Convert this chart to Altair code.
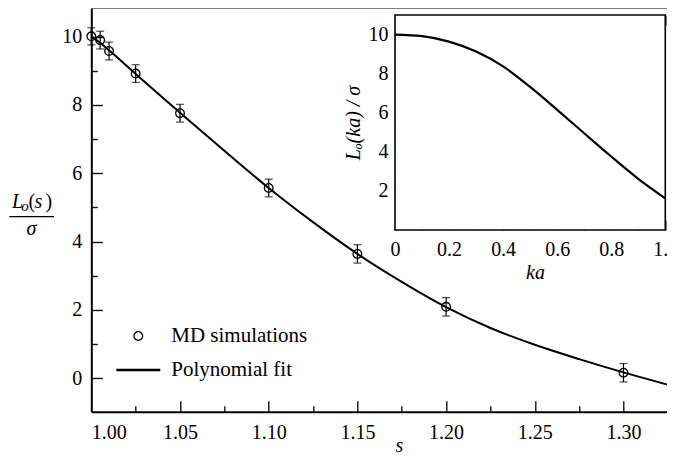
import altair as alt
import pandas as pd

# ---------------- data ----------------
s_md = [1.000, 1.005, 1.010, 1.025, 1.050, 1.100, 1.150, 1.200, 1.300]
L_md = [10.01, 9.90, 9.58, 8.92, 7.76, 5.57, 3.64, 2.09, 0.16]
L_err = [0.25, 0.26, 0.26, 0.26, 0.26, 0.26, 0.27, 0.27, 0.27]

s_fit = [1.000, 1.005, 1.010, 1.025, 1.050, 1.075, 1.100, 1.125, 1.150,
         1.175, 1.200, 1.225, 1.250, 1.275, 1.300, 1.330]
L_fit = [10.00, 9.82, 9.60, 8.91, 7.77, 6.66, 5.57, 4.57, 3.64,
         2.82, 2.08, 1.47, 0.98, 0.56, 0.17, -0.26]

ka_fit = [0.0, 0.1, 0.2, 0.3, 0.4, 0.5, 0.6, 0.7, 0.8, 0.9, 1.0]
Lk_fit = [10.00, 9.92, 9.64, 9.13, 8.37, 7.32, 6.15, 4.95, 3.76, 2.62, 1.62]

series_names = ["MD simulations", "Polynomial fit"]

# tick values
sx_labels = [1.00, 1.05, 1.10, 1.15, 1.20, 1.25, 1.30]
sx_major = [1.05, 1.10, 1.15, 1.20, 1.25, 1.30]
sx_minor = [1.025, 1.075, 1.125, 1.175, 1.225, 1.275, 1.325]
ly_major = [0, 2, 4, 6, 8, 10]
ly_minor = [1, 3, 5, 7, 9]
kx_major = [0.0, 0.2, 0.4, 0.6, 0.8, 1.0]
kx_minor = [0.1, 0.3, 0.5, 0.7, 0.9]
ky_major = [2, 4, 6, 8, 10]
ky_minor = [1, 3, 5, 7, 9]

# ---------------- layout constants ----------------
FONT = "Liberation Serif"
PAD_L = 83.3
W = 659 - PAD_L
H = 403.7
PX_PER_S = 1774.0
X_MAX = 1.0 + W / PX_PER_S
Y_DOM = [-0.98, 10.84]
INSET_X = [303.7, 574.0]
INSET_Y = [222.0, 7.0]
TICK = "#111111"

md_df = pd.DataFrame({"s": s_md, "L": L_md, "err": L_err})
md_df["lo"] = md_df["L"] - md_df["err"]
md_df["hi"] = md_df["L"] + md_df["err"]
md_df["series"] = series_names[0]
fit_df = pd.DataFrame({"s": s_fit, "L": L_fit})
ins_df = pd.DataFrame({"ka": ka_fit, "Lk": Lk_fit})
frame_df = pd.DataFrame({"x0": [0.0], "x1": [1.0], "y0": [0.0], "y1": [11.0]})
ONE = pd.DataFrame({"k": [0]})

XS = alt.Scale(domain=[1.0, X_MAX], nice=False, zero=False)
YS = alt.Scale(domain=Y_DOM, nice=False, zero=False)
KX = alt.Scale(domain=[0, 1], range=INSET_X, nice=False, zero=False)
KY = alt.Scale(domain=[0, 11], range=INSET_Y, nice=False, zero=False)


def tick_axis(orient, values, length, offset=0.0):
    """An axis that only draws inward-pointing ticks."""
    return alt.Axis(orient=orient, values=values, offset=offset,
                    labels=False, domain=False, grid=False, ticks=True,
                    tickSize=alt.ExprRef(expr=str(-length)),
                    tickColor=TICK, tickWidth=1.4, title=None)


def piece(txt, x, y, size=20, italic=True, align="left"):
    return alt.Chart(ONE).mark_text(
        text=txt, font=FONT, fontSize=size,
        fontStyle="italic" if italic else "normal",
        align=align, baseline="alphabetic", color="black"
    ).encode(x=alt.value(x), y=alt.value(y))


# ---------------- main panel ----------------
top_rule = alt.Chart(ONE).mark_rule(color="#555555", strokeWidth=1.3).encode(
    x=alt.value(0), x2=alt.value(W), y=alt.value(0))

fit_line = alt.Chart(fit_df).mark_line(
    color="black", strokeWidth=2, interpolate="monotone"
).encode(
    x=alt.X("s:Q", scale=XS, axis=alt.Axis(
        orient="bottom", values=sx_labels, format=".2f", ticks=False,
        domainWidth=2, domainColor="black", labelFontSize=20,
        labelPadding=10.5, labelFlush=True, grid=False,
        title="s", titleFontStyle="italic", titleFontSize=20,
        titleFontWeight="normal", titleX=307.7, titleY=40,
        titleBaseline="alphabetic")),
    y=alt.Y("L:Q", scale=YS, axis=alt.Axis(
        orient="left", values=ly_major, format="d", ticks=False,
        domainWidth=2, domainColor="black", labelFontSize=20,
        labelPadding=9.5, grid=False, title="")),
)

# error bars (their layers also carry the inward tick axes)
err_rule = alt.Chart(md_df).mark_rule(color="black", strokeWidth=1.2).encode(
    x=alt.X("s:Q", scale=XS, axis=tick_axis("bottom", sx_major, 11)),
    y=alt.Y("lo:Q", scale=YS, axis=tick_axis("left", ly_major, 11)),
    y2="hi:Q")
cap_lo = alt.Chart(md_df).mark_tick(
    color="black", orient="horizontal", size=8, thickness=1.2
).encode(x=alt.X("s:Q", scale=XS, axis=tick_axis("bottom", sx_minor, 6)),
         y=alt.Y("lo:Q", scale=YS, axis=tick_axis("left", ly_minor, 6)))
cap_hi = alt.Chart(md_df).mark_tick(
    color="black", orient="horizontal", size=8, thickness=1.2
).encode(x=alt.X("s:Q", scale=XS, axis=None),
         y=alt.Y("hi:Q", scale=YS, axis=None))

leg = alt.Legend(orient="none", legendX=23.5, legendY=317.5, title=None,
                 labelFont=FONT, labelFontSize=21, labelColor="black",
                 labelOffset=9.5, rowPadding=0, padding=0,
                 symbolStrokeColor="black")
points = alt.Chart(md_df).mark_point(
    filled=False, color="black", opacity=1
).encode(
    x=alt.X("s:Q", scale=XS, axis=None),
    y=alt.Y("L:Q", scale=YS, axis=None),
    shape=alt.Shape("series:N", scale=alt.Scale(
        domain=series_names, range=["circle", "stroke"]), legend=leg),
    size=alt.Size("series:N", scale=alt.Scale(
        domain=series_names, range=[75, 1936]), legend=leg),
    strokeWidth=alt.StrokeWidth("series:N", scale=alt.Scale(
        domain=series_names, range=[1.3, 2.5]), legend=leg),
)

ytitle = [
    piece("L", -79.3, 200.3),
    piece("o", -70.1, 203.0, size=15),
    piece("(", -62.8, 200.3, italic=False),
    piece("s", -56.8, 200.3),
    piece(")", -45.8, 200.3, italic=False),
    alt.Chart(ONE).mark_rule(color="black", strokeWidth=1.2).encode(
        x=alt.value(-82), x2=alt.value(-37.3), y=alt.value(208.7)),
    piece("σ", -59.8, 227, align="center"),
]

# ---------------- inset panel ----------------
OFF_B = -(H - INSET_Y[0])
OFF_L = -INSET_X[0]
OFF_T = -INSET_Y[1]
OFF_R = INSET_X[1] - W

frame = alt.Chart(frame_df).mark_rect(
    fill="white", stroke="black", strokeWidth=1.6
).encode(
    x=alt.X("x0:Q", scale=KX, axis=alt.Axis(
        orient="bottom", offset=OFF_B, values=kx_major,
        labelExpr="datum.value == 0 ? '0' : format(datum.value, '.1f')",
        ticks=False, domain=False, labelFlush=False, labelFontSize=20,
        labelPadding=10, grid=False, title="ka", titleFontStyle="italic",
        titleFontSize=20, titleFontWeight="normal", titleX=443.7,
        titleY=48.3, titleBaseline="alphabetic")),
    x2="x1:Q",
    y=alt.Y("y0:Q", scale=KY, axis=alt.Axis(
        orient="left", offset=OFF_L, values=ky_major, format="d",
        ticks=False, domain=False, labelFontSize=20, labelPadding=7,
        grid=False, title="Lₒ(ka) / σ", titleFontStyle="italic",
        titleFontSize=20, titleFontWeight="normal", titleAngle=270,
        titleX=-41, titleY=114.5, titleBaseline="middle",
        titleAlign="center")),
    y2="y1:Q",
)


def inset_curve(xaxis, yaxis, visible=True):
    return alt.Chart(ins_df).mark_line(
        color="black", strokeWidth=2.2, interpolate="monotone",
        strokeOpacity=1 if visible else 0
    ).encode(x=alt.X("ka:Q", scale=KX, axis=xaxis),
             y=alt.Y("Lk:Q", scale=KY, axis=yaxis))


inset_layers = [
    inset_curve(tick_axis("bottom", kx_major, 10, OFF_B),
                tick_axis("left", ky_major, 10, OFF_L)),
    inset_curve(tick_axis("bottom", kx_minor, 6, OFF_B),
                tick_axis("left", ky_minor, 6, OFF_L), visible=False),
    inset_curve(tick_axis("top", kx_major, 10, OFF_T),
                tick_axis("right", ky_major, 10, OFF_R), visible=False),
    inset_curve(tick_axis("top", kx_minor, 6, OFF_T),
                tick_axis("right", ky_minor, 6, OFF_R), visible=False),
]

layers = [
    top_rule, fit_line, err_rule, cap_lo, cap_hi, points,
    *ytitle,
    frame, *inset_layers,
]

chart = alt.layer(*layers).resolve_scale(
    x="independent", y="independent"
).properties(
    width=W, height=H,
    padding={"left": PAD_L, "top": 0, "right": 0, "bottom": 43},
    autosize=alt.AutoSizeParams(type="none"),
).configure_axis(
    labelFont=FONT, titleFont=FONT, labelColor="black", titleColor="black"
).configure_view(strokeWidth=0)

chart.save("out.html", embed_options={"renderer": "svg", "actions": False})
